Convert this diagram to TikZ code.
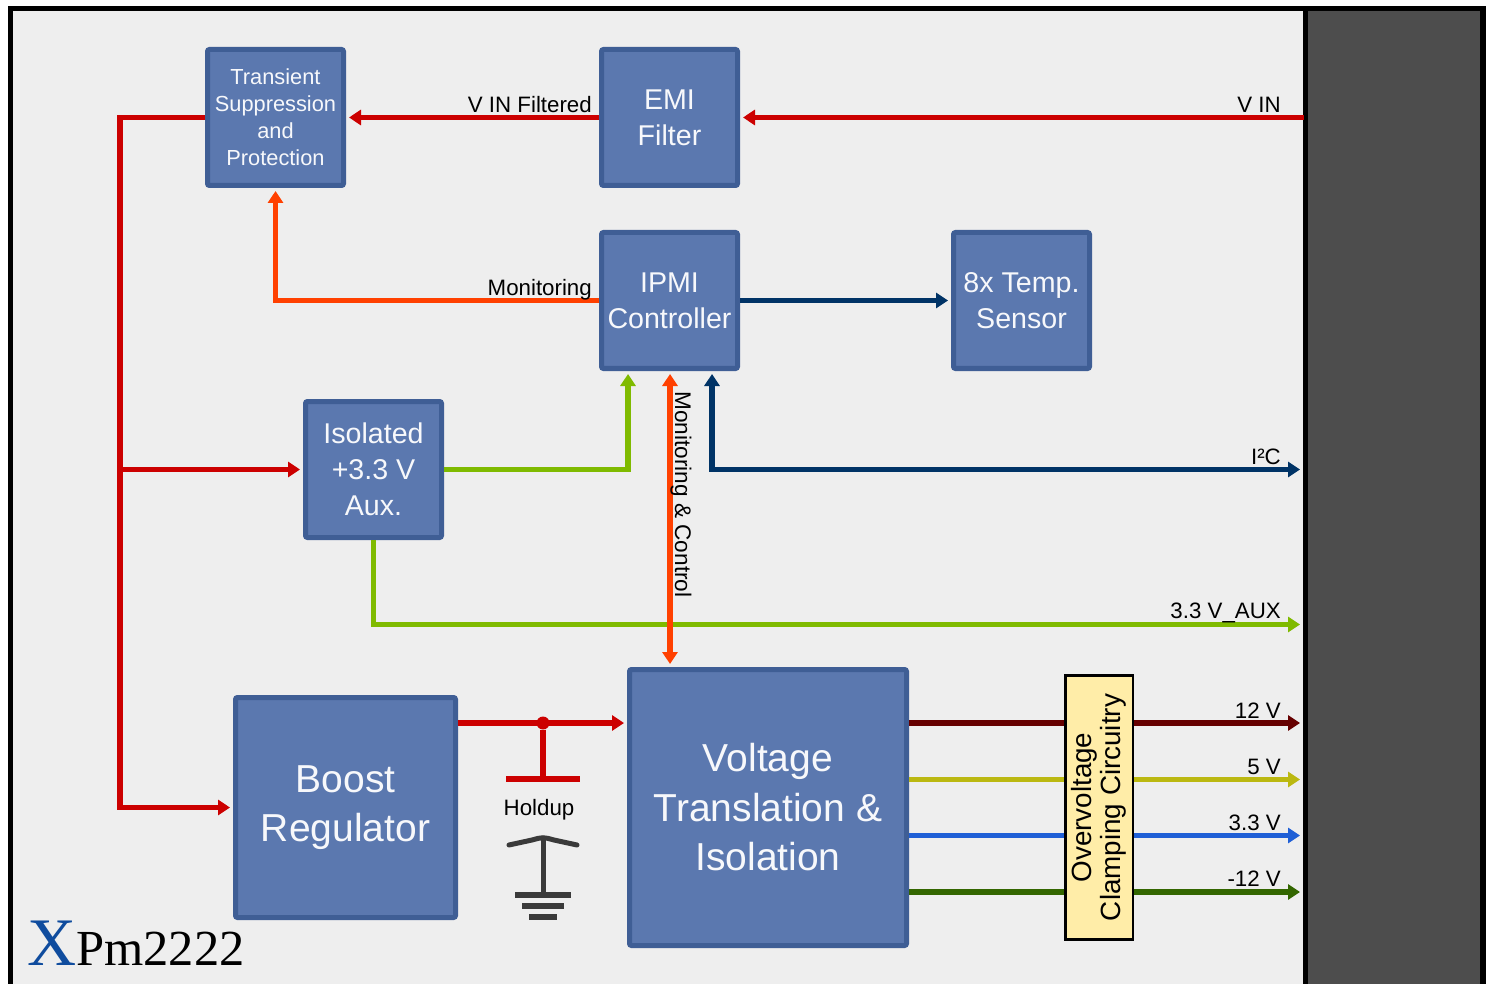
\documentclass[tikz,border=0pt]{standalone}
\usepackage{xcolor}
\usepackage{fontspec}
\usepackage{tikz}
\setmainfont{Liberation Sans}
\newfontfamily\logofont{Liberation Serif}
\usetikzlibrary{
  arrows.meta,
  positioning
}
\definecolor{xpBack}{HTML}{EEEEEE}
\definecolor{xpPanel}{HTML}{4D4D4D}
\definecolor{xpBlock}{HTML}{5B78AF}
\definecolor{xpEdge}{HTML}{3F5E95}
\definecolor{xpClamp}{HTML}{FFEDA8}
\definecolor{xpRed}{HTML}{CC0000}
\definecolor{xpOrange}{HTML}{FF4000}
\definecolor{xpLime}{HTML}{7FBA00}
\definecolor{xpNavy}{HTML}{003366}
\definecolor{xpMaroon}{HTML}{660000}
\definecolor{xpOlive}{HTML}{BBB811}
\definecolor{xpBlue}{HTML}{1F5FD6}
\definecolor{xpLeaf}{HTML}{336600}
\definecolor{xpGround}{HTML}{3A3A3A}
\definecolor{xpLogo}{HTML}{0F4C9E}
\tikzset{
  block/.style={
    draw=xpEdge, fill=xpBlock, line width=5pt, rounded corners=2pt, inner sep=0pt,
    minimum width=136pt, minimum height=136pt, align=center, text=white!95!xpBlock,
    font=\fontsize{28.6}{36}\selectfont
  },
  smallblock/.style={block, font=\fontsize{21.8}{27}\selectfont},
  bigblock/.style={block, font=\fontsize{39}{49.5}\selectfont},
  clamp/.style={
    draw=black, fill=xpClamp, line width=2.5pt, inner sep=0pt, align=center,
    minimum width=264pt, minimum height=67.5pt, font=\fontsize{27.8}{29.5}\selectfont
  },
  wire/.style={line width=5.5pt, shorten >=3pt},
  tip/.style={wire, -{Triangle[length=12pt,width=15pt]}},
  bothtip/.style={wire, shorten <=3pt, {Triangle[length=12pt,width=15pt]}-{Triangle[length=12pt,width=15pt]}},
  lbl/.style={font=\fontsize{22.3}{26}\selectfont, inner sep=0pt, text=black},
  plate/.style={fill=xpRed, inner sep=0pt, minimum width=74pt, minimum height=5.5pt},
  gndbar/.style={fill=xpGround, inner sep=0pt, minimum height=6pt}
}
\begin{document}
\begin{tikzpicture}[x=1pt, y=-1pt]
  \useasboundingbox (0,0) rectangle (1489,984);
  \fill[white] (0,0) rectangle (1489,984);
  \fill[black] (8,6) rectangle (1486,984);
  \fill[xpBack] (13,11) rectangle (1303,984);
  \fill[xpPanel] (1308,11) rectangle (1480,984);

  \node[smallblock] (tvs) at (275.5,117.5) {Transient\\Suppression\\and\\Protection};
  \node[block, right=253pt of tvs] (emi) {EMI\\Filter};
  \node[block, below=42pt of emi] (ipmi) {IPMI\\Controller};
  \node[block, right=211pt of ipmi] (temp) {8x Temp.\\Sensor};
  \node[block, below left=28pt and 155pt of ipmi] (iso) {Isolated\\+3.3 V\\Aux.};
  \node[bigblock, below=155pt of iso, xshift=-28pt, minimum width=220pt, minimum height=220pt] (boost) {Boost\\Regulator};
  \node[bigblock, right=169pt of boost, minimum width=277pt, minimum height=276pt] (volt) {Voltage\\Translation \&\\Isolation};
  \node[clamp, rotate=90] (ovc) at (1099,807.5) {Overvoltage\\Clamping Circuitry};

  \coordinate (vin) at (1304,117.5);
  \coordinate (i2c) at (1303,469.5);
  \coordinate (aux) at (1303,624.5);
  \coordinate (vp12) at (1303,723);
  \coordinate (vp5) at (1303,779.5);
  \coordinate (vp33) at (1303,835.5);
  \coordinate (vm12) at (1303,892);
  \coordinate (feed) at (120,117.5);
  \coordinate (tapiso) at (120,469.5);

  \draw[tip, xpRed] (vin) -- (emi.east);
  \draw[tip, xpRed] (emi.west) -- (tvs.east);
  \draw[tip, xpRed] (tvs.west) -- (feed) |- (boost.west);
  \draw[tip, xpRed] (tapiso) -- (iso.west);
  \draw[tip, xpOrange] (ipmi.west) -| (tvs.south);
  \draw[tip, xpNavy] (ipmi.east) -- (temp.west);
  \draw[tip, xpLime] (iso.east) -| (628,371);
  \draw[tip, xpLime] (iso.south) |- (aux);
  \draw[bothtip, xpNavy] (i2c) -| (712,371);
  \draw[bothtip, xpOrange] (670,371) -- (670,667);

  \node[circle, fill=xpRed, inner sep=0pt, minimum size=13pt] (tap) at (543,723) {};
  \node[plate] (capa) at (543,779) {};
  \draw[tip, xpRed] (tap -| boost.east) -- (tap -| volt.west);
  \draw[wire, xpRed, shorten >=0pt] (tap) -- (capa);

  \coordinate (capl) at (509,845);
  \coordinate (capr) at (577,845);
  \coordinate (capm) at (543,837);
  \node[gndbar, minimum width=56pt] (gnda) at (543,895) {};
  \node[gndbar, minimum width=42pt] (gndb) at (543,906) {};
  \node[gndbar, minimum width=28pt] (gndc) at (543,917) {};
  \draw[xpGround, line width=5pt, line cap=round] (capl) -- (532,840) .. controls (capm) .. (554,840) -- (capr);
  \draw[xpGround, line width=5pt] (capm) -- (gnda);

  \draw[xpMaroon, line width=5.5pt] (vp12 -| volt.east) -- (vp12 -| ovc.north);
  \draw[tip, xpMaroon] (vp12 -| ovc.south) -- (vp12);
  \draw[xpOlive, line width=5.5pt] (vp5 -| volt.east) -- (vp5 -| ovc.north);
  \draw[tip, xpOlive] (vp5 -| ovc.south) -- (vp5);
  \draw[xpBlue, line width=5.5pt] (vp33 -| volt.east) -- (vp33 -| ovc.north);
  \draw[tip, xpBlue] (vp33 -| ovc.south) -- (vp33);
  \draw[xpLeaf, line width=5.5pt] (vm12 -| volt.east) -- (vm12 -| ovc.north);
  \draw[tip, xpLeaf] (vm12 -| ovc.south) -- (vm12);

  \node[lbl, anchor=base east] (lblfilt) at (592,112.3) {V IN Filtered};
  \node[lbl, anchor=base east] (lblvin) at (1281,112.3) {V IN};
  \node[lbl, anchor=base east] (lblmon) at (592,296) {Monitoring};
  \node[lbl, anchor=base east] (lbli2c) at (1281,464) {I²C};
  \node[lbl, anchor=base east] (lblaux) at (1281,618.5) {3.3 V\_AUX};
  \node[lbl, anchor=base east] (lblp12) at (1281,718) {12 V};
  \node[lbl, anchor=base east] (lblp5) at (1281,774) {5 V};
  \node[lbl, anchor=base east] (lblp33) at (1281,830) {3.3 V};
  \node[lbl, anchor=base east] (lblm12) at (1281,886.5) {-12 V};
  \node[lbl, rotate=-90, font=\fontsize{22.6}{26}\selectfont] (lblctl) at (681,494.5) {Monitoring \& Control};
  \node[lbl] (lblhold) at (539,810) {Holdup};
  \node[inner sep=0pt, anchor=base west] (logo) at (27,965) {\logofont\fontsize{68}{70}\selectfont\textcolor{xpLogo}{X}\fontsize{50.5}{60}\selectfont Pm2222};
\end{tikzpicture}
\end{document}
